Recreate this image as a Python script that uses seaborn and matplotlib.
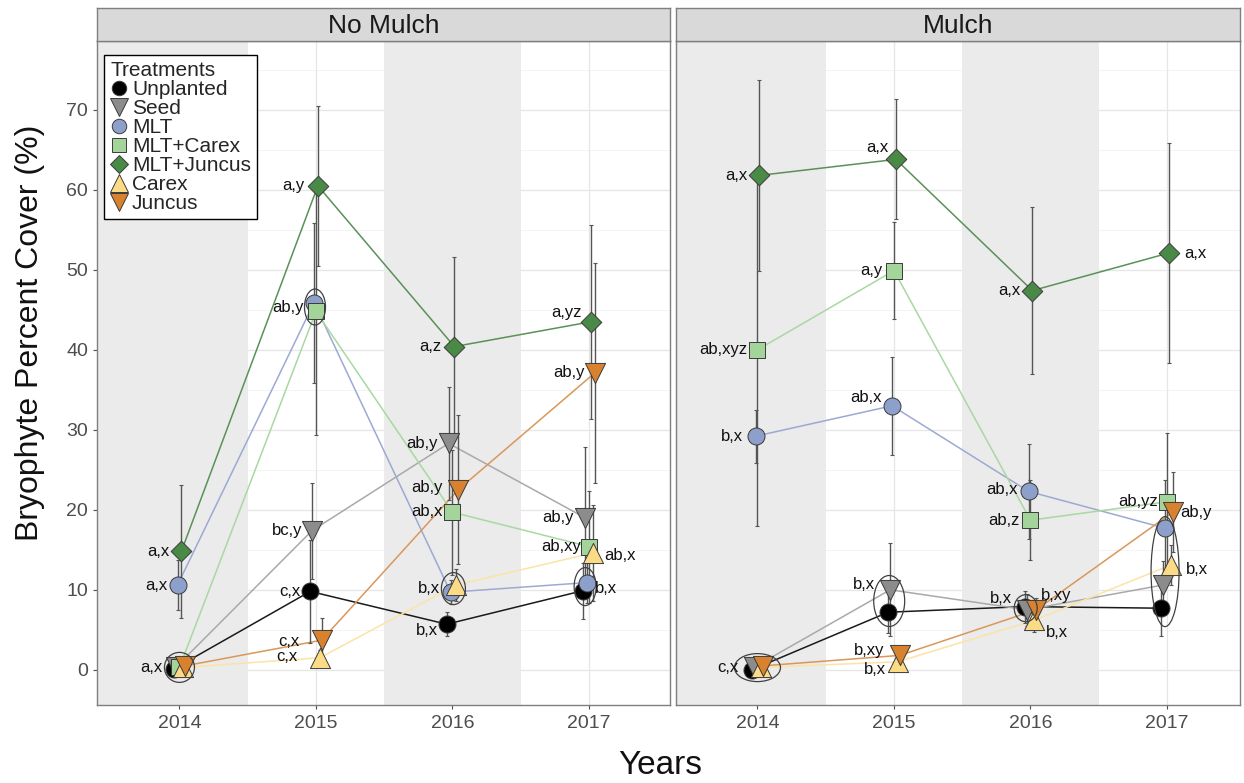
import numpy as np
import pandas as pd
import matplotlib
matplotlib.use("Agg")
import matplotlib.pyplot as plt
from matplotlib.patches import Ellipse
from matplotlib.lines import Line2D
import seaborn as sns

# ---------------------------------------------------------------- data
years = [2014, 2015, 2016, 2017]
treatments = ["Unplanted", "Seed", "MLT", "MLT+Carex", "MLT+Juncus", "Carex", "Juncus"]
panels = ["No Mulch", "Mulch"]

# mean bryophyte cover (%) per treatment, No Mulch
nm_unplanted = [0.1, 9.8, 5.7, 9.9]
nm_seed = [0.3, 17.4, 28.3, 19.0]
nm_mlt = [10.6, 45.9, 9.7, 10.9]
nm_mlt_carex = [0.3, 44.8, 19.7, 15.4]
nm_mlt_juncus = [14.8, 60.5, 40.4, 43.5]
nm_carex = [0.3, 1.5, 10.6, 14.6]
nm_juncus = [0.5, 3.7, 22.5, 37.1]

# standard errors, No Mulch
nm_unplanted_se = [0.2, 6.4, 1.5, 3.5]
nm_seed_se = [0.3, 6.0, 7.1, 8.9]
nm_mlt_se = [3.1, 10.0, 1.5, 2.5]
nm_mlt_carex_se = [0.3, 15.5, 7.8, 7.0]
nm_mlt_juncus_se = [8.3, 10.0, 11.2, 12.1]
nm_carex_se = [0.3, 1.0, 2.0, 6.0]
nm_juncus_se = [0.5, 2.8, 9.3, 13.7]

# mean bryophyte cover (%) per treatment, Mulch
m_unplanted = [0.0, 7.2, 7.9, 7.7]
m_seed = [0.3, 10.0, 7.5, 10.6]
m_mlt = [29.2, 33.0, 22.3, 17.7]
m_mlt_carex = [40.0, 49.9, 18.7, 21.0]
m_mlt_juncus = [61.8, 63.8, 47.4, 52.1]
m_carex = [0.3, 1.0, 6.2, 13.1]
m_juncus = [0.5, 1.8, 7.5, 19.7]

# standard errors, Mulch
m_unplanted_se = [0.2, 2.6, 2.0, 3.5]
m_seed_se = [0.3, 5.8, 2.0, 3.0]
m_mlt_se = [3.3, 6.1, 5.9, 6.0]
m_mlt_carex_se = [22.0, 6.1, 5.0, 8.6]
m_mlt_juncus_se = [11.9, 7.5, 10.4, 13.7]
m_carex_se = [0.3, 0.8, 1.5, 2.5]
m_juncus_se = [0.5, 1.0, 1.5, 5.0]

# significance letters: (year, treatment the letters sit beside, text)
nm_letters = [
    (2014, "MLT+Juncus", "a,x"), (2014, "MLT", "a,x"), (2014, "Unplanted", "a,x"),
    (2015, "MLT+Juncus", "a,y"), (2015, "MLT", "ab,y"), (2015, "Seed", "bc,y"),
    (2015, "Unplanted", "c,x"), (2015, "Juncus", "c,x"), (2015, "Carex", "c,x"),
    (2016, "MLT+Juncus", "a,z"), (2016, "Seed", "ab,y"), (2016, "Juncus", "ab,y"),
    (2016, "MLT+Carex", "ab,x"), (2016, "MLT", "b,x"), (2016, "Unplanted", "b,x"),
    (2017, "MLT+Juncus", "a,yz"), (2017, "Juncus", "ab,y"), (2017, "Seed", "ab,y"),
    (2017, "MLT+Carex", "ab,xy"), (2017, "Carex", "ab,x"), (2017, "Unplanted", "b,x"),
]
m_letters = [
    (2014, "MLT+Juncus", "a,x"), (2014, "MLT+Carex", "ab,xyz"), (2014, "MLT", "b,x"),
    (2014, "Unplanted", "c,x"),
    (2015, "MLT+Juncus", "a,x"), (2015, "MLT+Carex", "a,y"), (2015, "MLT", "ab,x"),
    (2015, "Seed", "b,x"), (2015, "Juncus", "b,xy"), (2015, "Carex", "b,x"),
    (2016, "MLT+Juncus", "a,x"), (2016, "MLT", "ab,x"), (2016, "MLT+Carex", "ab,z"),
    (2016, "Unplanted", "b,x"), (2016, "Juncus", "b,xy"), (2016, "Carex", "b,x"),
    (2017, "MLT+Juncus", "a,x"), (2017, "MLT+Carex", "ab,yz"), (2017, "Juncus", "ab,y"),
    (2017, "Carex", "b,x"),
]

# groups of treatments that share a letter and are circled
nm_groups = [
    (2014, ["Unplanted", "Seed", "MLT+Carex", "Carex", "Juncus"]),
    (2015, ["MLT", "MLT+Carex"]),
    (2016, ["MLT", "Carex"]),
    (2017, ["MLT", "Unplanted"]),
]
m_groups = [
    (2014, ["Unplanted", "Seed", "Carex", "Juncus"]),
    (2015, ["Seed", "Unplanted"]),
    (2016, ["Unplanted", "Seed"]),
    (2017, ["MLT", "Carex", "Seed", "Unplanted"]),
]

# ---------------------------------------------------------------- tidy table
means = {
    "No Mulch": [nm_unplanted, nm_seed, nm_mlt, nm_mlt_carex, nm_mlt_juncus, nm_carex, nm_juncus],
    "Mulch": [m_unplanted, m_seed, m_mlt, m_mlt_carex, m_mlt_juncus, m_carex, m_juncus],
}
errors = {
    "No Mulch": [nm_unplanted_se, nm_seed_se, nm_mlt_se, nm_mlt_carex_se, nm_mlt_juncus_se,
                 nm_carex_se, nm_juncus_se],
    "Mulch": [m_unplanted_se, m_seed_se, m_mlt_se, m_mlt_carex_se, m_mlt_juncus_se,
              m_carex_se, m_juncus_se],
}
rows = []
for p in panels:
    for t, vals, ses in zip(treatments, means[p], errors[p]):
        for y, v, s in zip(years, vals, ses):
            rows.append(dict(panel=p, treatment=t, year=y, cover=v, se=s))
df = pd.DataFrame(rows)

# small horizontal dodge so overlapping treatments stay visible
dodge_step = 0.014
dodge = {t: (i - 3) * dodge_step for i, t in enumerate(treatments)}
df["xd"] = df["year"] + df["treatment"].map(dodge)

# ---------------------------------------------------------------- styling
sns.set_style("white")
plt.rcParams["font.family"] = ["Liberation Sans", "DejaVu Sans"]

fill = {
    "Unplanted": "#000000", "Seed": "#8C8C8C", "MLT": "#8DA0CB", "MLT+Carex": "#A3D59B",
    "MLT+Juncus": "#4A8A47", "Carex": "#FCDB86", "Juncus": "#D8812F",
}
line = {
    "Unplanted": "#1A1A1A", "Seed": "#A9A9A9", "MLT": "#9DA9D2", "MLT+Carex": "#A9D8A2",
    "MLT+Juncus": "#5A9157", "Carex": "#FCE3A6", "Juncus": "#D9975A",
}
markers = {
    "Unplanted": "o", "Seed": "v", "MLT": "o", "MLT+Carex": "s",
    "MLT+Juncus": "D", "Carex": "^", "Juncus": "v",
}
msize = {
    "Unplanted": 150, "Seed": 210, "MLT": 150, "MLT+Carex": 125,
    "MLT+Juncus": 110, "Carex": 210, "Juncus": 210,
}

# letter offsets in pixels (dx, dy), one per letter entry
nm_offsets = [
    (-12, 0), (-10, 0), (-11, 1),
    (-13, 0), (-10, -5), (-10, 0), (-10, 0), (-22, -1), (-22, 1),
    (-13, 0), (-11, 0), (-15, 2), (-10, 1), (-10, 4), (-9, -6),
    (-9, 9), (-10, 0), (-11, 0), (-8, 0), (11, -2), (12, 2),
]
m_offsets = [
    (-12, 0), (-10, 0), (-13, 0), (-13, 2),
    (-7, 12), (-11, 0), (-10, 8), (-15, 5), (-15, 5), (-12, -8),
    (-12, 0), (-11, 2), (-11, 0), (-13, 8), (5, 14), (12, -12),
    (15, 0), (-9, 0), (8, 0), (15, -4),
]
# ellipse sizes in pixels (w, h)
nm_ell = [(30, 30), (21, 36), (24, 32), (22, 38)]
m_ell = [(46, 28), (31, 51), (23, 27), (28, 110)]

W, H = 1244, 783
fig = plt.figure(figsize=(W / 100, H / 100), dpi=100)

ax_box = {
    "No Mulch": (97, 669.5, (2013.396, 2017.59)),
    "Mulch": (676, 1240, (2013.403, 2017.535)),
}
plot_top, plot_bot, strip_top = 41, 705, 8

axes = {}
for p in panels:
    x0, x1, xl = ax_box[p]
    ax = fig.add_axes([x0 / W, 1 - plot_bot / H, (x1 - x0) / W, (plot_bot - plot_top) / H])
    sax = fig.add_axes([x0 / W, 1 - plot_top / H, (x1 - x0) / W, (plot_top - strip_top) / H])
    axes[p] = ax
    ax.set_xlim(*xl)
    ax.set_ylim(-4.4, 78.6)
    px_per_x = (x1 - x0) / (xl[1] - xl[0])
    px_per_y = (plot_bot - plot_top) / (78.6 + 4.4)

    # background grid and alternating year bands
    ax.set_facecolor("white")
    for v in np.arange(0, 80, 10):
        ax.axhline(v, color="#E6E6E6", lw=0.9, zorder=0)
    for v in np.arange(5, 80, 10):
        ax.axhline(v, color="#F2F2F2", lw=0.6, zorder=0)
    for yr in years:
        ax.axvline(yr, color="#E6E6E6", lw=0.9, zorder=0)
    ax.axvspan(xl[0], 2014.5, color="#EBEBEB", lw=0, zorder=0.5)
    ax.axvspan(2015.5, 2016.5, color="#EBEBEB", lw=0, zorder=0.5)

    sub = df[df.panel == p]

    # connecting lines
    sns.lineplot(data=sub, x="xd", y="cover", hue="treatment", hue_order=treatments,
                 palette=line, units="treatment", estimator=None, sort=True,
                 lw=1.1, legend=False, ax=ax, zorder=2)

    # error bars
    ax.errorbar(sub["xd"], sub["cover"], yerr=sub["se"], fmt="none",
                ecolor="#555555", elinewidth=1.0, capsize=1.2, capthick=0.8, zorder=3)

    # points
    for t in treatments:
        st = sub[sub.treatment == t]
        sns.scatterplot(data=st, x="xd", y="cover", color=fill[t], marker=markers[t],
                        s=msize[t], edgecolor="#3A3A3A", linewidth=0.7,
                        legend=False, ax=ax, zorder=4)

    # letters
    letters = nm_letters if p == "No Mulch" else m_letters
    offs = nm_offsets if p == "No Mulch" else m_offsets
    for (yr, t, txt), (dx, dy) in zip(letters, offs):
        r = sub[(sub.year == yr) & (sub.treatment == t)].iloc[0]
        ax.annotate(txt, xy=(r.xd, r.cover), xytext=(dx * 0.72, dy * 0.72),
                    textcoords="offset points", ha="right" if dx < 0 else "left",
                    va="center", fontsize=12, color="#111111", zorder=6)

    # circled groups
    groups = nm_groups if p == "No Mulch" else m_groups
    ells = nm_ell if p == "No Mulch" else m_ell
    for (yr, members), (ew, eh) in zip(groups, ells):
        g = sub[(sub.year == yr) & (sub.treatment.isin(members))]
        e = Ellipse((g.xd.mean(), g.cover.mean()), ew / px_per_x, eh / px_per_y,
                    fill=False, ec="#404040", lw=0.9, zorder=5)
        ax.add_patch(e)

    # axes cosmetics
    ax.set_xticks(years)
    ax.set_xticklabels([str(y) for y in years])
    ax.set_yticks(np.arange(0, 80, 10))
    ax.set_xlabel("")
    ax.set_ylabel("")
    ax.tick_params(axis="both", labelsize=14, labelcolor="#4D4D4D", color="#4D4D4D",
                   length=3, width=0.8, direction="out")
    ax.tick_params(axis="x", pad=4)
    if p == "Mulch":
        ax.tick_params(axis="y", left=False, labelleft=False)
    else:
        ax.tick_params(axis="y", left=True)
    ax.tick_params(axis="x", bottom=True)
    for s in ax.spines.values():
        s.set_color("#7F7F7F")
        s.set_linewidth(1.0)
        s.set_zorder(7)

    # facet strip
    sax.set_xticks([])
    sax.set_yticks([])
    sax.set_facecolor("#D9D9D9")
    for s in sax.spines.values():
        s.set_color("#7F7F7F")
        s.set_linewidth(1.0)
    sax.text(0.5, 0.45, p, ha="center", va="center", fontsize=19, color="#1A1A1A",
             transform=sax.transAxes)

# legend
handles = [Line2D([], [], ls="none", marker=markers[t], markerfacecolor=fill[t],
                  markeredgecolor="#3A3A3A", markeredgewidth=0.7,
                  markersize=np.sqrt(msize[t]) * 0.85) for t in treatments]
ax0 = axes["No Mulch"]
leg = ax0.legend(handles, treatments, title="Treatments", loc="upper left",
                 bbox_to_anchor=(0.012, 0.979), borderaxespad=0, frameon=True,
                 fancybox=False, edgecolor="#000000", framealpha=1,
                 fontsize=15, title_fontsize=15, handlelength=0.9, handletextpad=0.15,
                 labelspacing=0.0, borderpad=0.3, alignment="left")
leg.get_frame().set_linewidth(1.0)
leg.set_zorder(10)

# axis titles
fig.text(660 / W, 1 - 765 / H, "Years", ha="center", va="center", fontsize=24, color="#111111")
fig.text(30 / W, 1 - 333 / H, "Bryophyte Percent Cover (%)", ha="center", va="center",
         rotation=90, fontsize=23, color="#111111")

fig.savefig("out.png", dpi=100)
